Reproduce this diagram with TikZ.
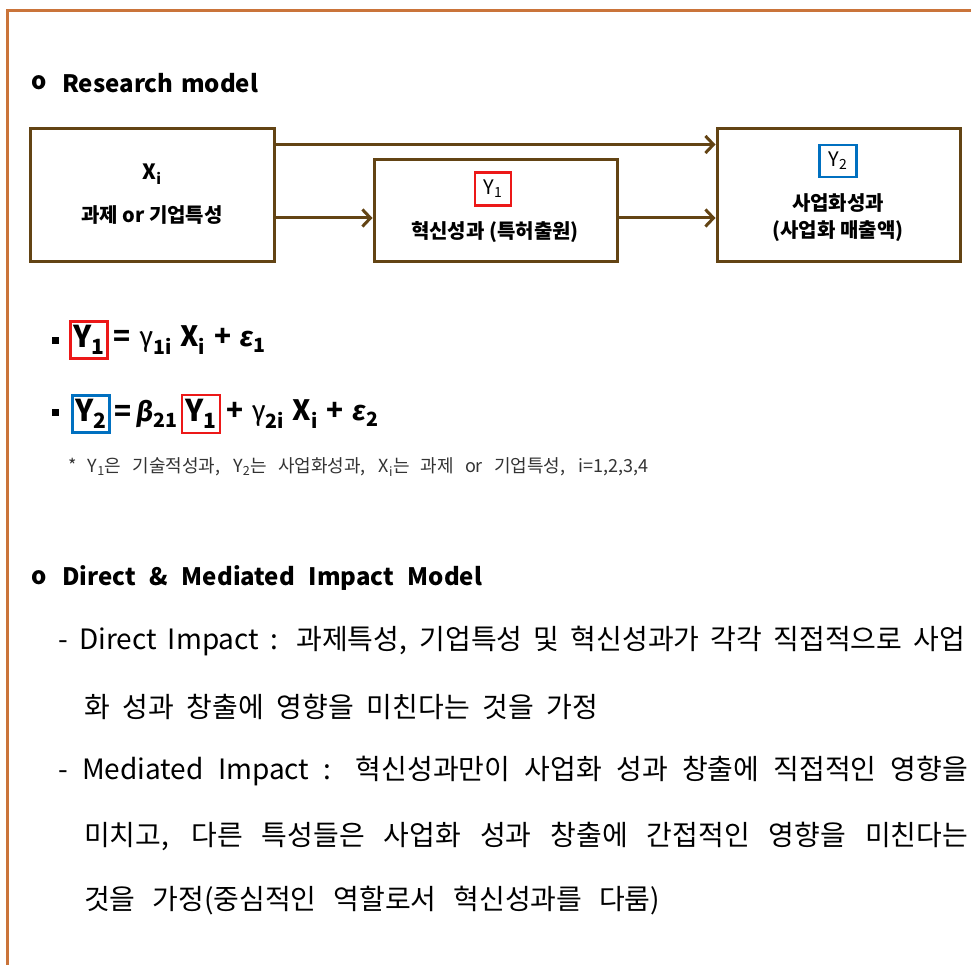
\documentclass[tikz,border=0pt]{standalone}
\usepackage{fontspec}
\setmainfont{Noto Sans CJK KR}
\newfontfamily\grk{Fira Sans}
\usetikzlibrary{arrows.meta,positioning}

\definecolor{frameorange}{RGB}{202,116,58}
\definecolor{boxbrown}{RGB}{99,68,20}
\definecolor{tagred}{RGB}{236,24,24}
\definecolor{tagblue}{RGB}{0,112,192}

\newcommand{\setsz}[1]{\fontsize{#1}{#1}\selectfont}

\begin{document}
\begin{tikzpicture}[x=1pt,y=-1pt,
	box/.style={draw=boxbrown,line width=3pt,rectangle,inner sep=0pt},
	tag/.style={draw=#1,line width=2.5pt,rectangle,inner sep=0pt,minimum width=36pt,minimum height=34pt},
	arr/.style={draw=boxbrown,line width=3pt,-{Straight Barb[length=8pt,width=17pt]}},
	lbl/.style={inner sep=0pt,font=\setsz{20}\bfseries},
	head/.style={anchor=west,inner sep=0pt,font=\setsz{24}\bfseries},
	body/.style={anchor=west,inner sep=0pt,font=\setsz{28}},
	eqn/.style={anchor=west,inner sep=0pt,font=\setsz{28}\bfseries}]

	\useasboundingbox (0,0) rectangle (971,965);
	\draw[frameorange,line width=3pt] (971,11) -- (7,11) -- (7,965);

	% research model
	\node[head] (bul1) at (31,83) {o};
	\node[head] (head1) at (62,83) {\makebox[196pt][s]{Research model}};

	\node[box,minimum width=244pt,minimum height=133pt] (xbox) at (152.5,195.5) {};
	\node[box,minimum width=243pt,minimum height=102pt] (pbox) at (495.5,210.5) {};
	\node[box,minimum width=243pt,minimum height=133pt] (cbox) at (838.5,195.5) {};

	\node[lbl,font=\setsz{21}\bfseries] (xlbl) at (152,174) {X\textsubscript{i}};
	\node[lbl] (xtxt) at (152,215) {과제 or 기업특성};

	\node[tag=tagred,minimum width=36pt,minimum height=33pt] (ptag) at (493,189) {\setsz{20}Y\textsubscript{1}};
	\node[lbl] (ptxt) at (495,232) {혁신성과 (특허출원)};

	\node[tag=tagblue,minimum width=37pt,minimum height=32pt] (ctag) at (838,161) {\setsz{20}Y\textsubscript{2}};
	\node[lbl] (ctxt1) at (838,203) {사업화성과};
	\node[lbl] (ctxt2) at (838,231) {(사업화 매출액)};

	\draw[arr] ([yshift=-17pt]xbox.north east) -- ([yshift=-17pt]cbox.north west);
	\draw[arr] ([yshift=-22.5pt]xbox.east) -- ([yshift=-22.5pt]xbox.east -| pbox.west);
	\draw[arr] ([yshift=-7.5pt]pbox.east) -- ([yshift=-7.5pt]pbox.east -| cbox.west);

	% equations
	\fill (51.5,336.5) rectangle (58.5,343.5);
	\fill (51.5,408.5) rectangle (58.5,415.5);

	\node[tag=tagred,minimum width=37pt,minimum height=37pt,font=\setsz{30}\bfseries] (eq1y) at (89,340) {Y\textsubscript{1}};
	\node[eqn] (eq1r) at ([xshift=5pt]eq1y.east) {\makebox[152pt][s]{= {\grk\mdseries γ}\textsubscript{1i} X\textsubscript{i} + {\grk\itshape ε}\textsubscript{1}}};

	\node[tag=tagblue,minimum width=37pt,minimum height=37pt,font=\setsz{30}\bfseries] (eq2y) at (91,414) {Y\textsubscript{2}};
	\node[eqn] (eq2m) at ([xshift=3.5pt]eq2y.east) {\makebox[63pt][s]{= {\grk\itshape β}\textsubscript{21}}};
	\node[tag=tagred,minimum width=38pt,minimum height=38pt,font=\setsz{30}\bfseries] (eq2y1) at (201,414) {Y\textsubscript{1}};
	\node[eqn] (eq2r) at ([xshift=5pt]eq2y1.east) {\makebox[152pt][s]{+ {\grk\mdseries γ}\textsubscript{2i} X\textsubscript{i} + {\grk\itshape ε}\textsubscript{2}}};

	\node[anchor=west,inner sep=0pt,font=\setsz{18},text=black!80] (note) at (68,467)
		{\makebox[580pt][s]{* Y\textsubscript{1}은 기술적성과, Y\textsubscript{2}는 사업화성과, X\textsubscript{i}는 과제 or 기업특성, i=1,2,3,4}};

	% direct & mediated
	\node[head] (bul2) at (31,578) {o};
	\node[head] (head2) at (62,578) {\makebox[420pt][s]{Direct \& Mediated Impact Model}};

	\node[body] (dline1) at (58,641) {\makebox[907pt][s]{- Direct Impact : 과제특성, 기업특성 및 혁신성과가 각각 직접적으로 사업}};
	\node[body] (dline2) at (84,707) {\makebox[514pt][s]{화 성과 창출에 영향을 미친다는 것을 가정}};
	\node[body] (mline1) at (58,771) {\makebox[910pt][s]{- Mediated Impact : 혁신성과만이 사업화 성과 창출에 직접적인 영향을}};
	\node[body] (mline2) at (84,836) {\makebox[884pt][s]{미치고, 다른 특성들은 사업화 성과 창출에 간접적인 영향을 미친다는}};
	\node[body] (mline3) at (84,901) {\makebox[576pt][s]{것을 가정(중심적인 역할로서 혁신성과를 다룸)}};

\end{tikzpicture}
\end{document}
